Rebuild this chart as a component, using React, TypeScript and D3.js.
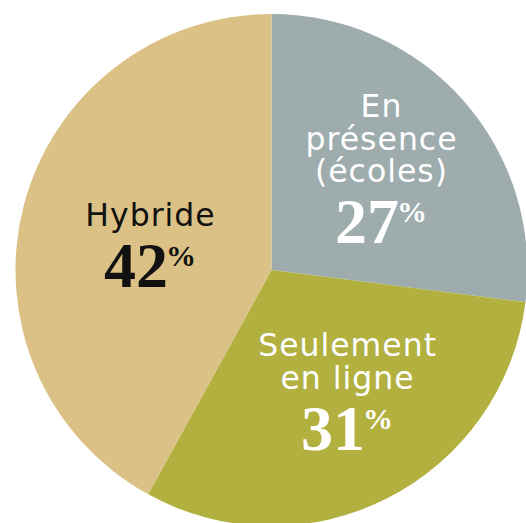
import React, { useEffect, useRef } from "react";
import * as d3 from "d3";

// modes d'enseignement, en %
const categories = ["En présence (écoles)", "Seulement en ligne", "Hybride"];
const labelLines = [["En", "présence", "(écoles)"], ["Seulement", "en ligne"], ["Hybride"]];
const values = [27, 31, 42];
const colors = ["#9eacad", "#b2b03f", "#dbc185"];
const textColors = ["#ffffff", "#ffffff", "#111111"];

const W = 526;
const H = 523;

export default function App() {
  const ref = useRef<SVGSVGElement>(null);

  useEffect(() => {
    const svg = d3.select(ref.current);
    svg.selectAll("*").remove();

    const cx = 271.5;
    const cy = 270;
    const radius = 256;

    const g = svg.append("g").attr("transform", `translate(${cx},${cy})`);

    const data = categories.map((c, i) => ({ name: c, value: values[i], i }));
    const pie = d3
      .pie<any>()
      .value((d) => d.value)
      .sort(null);
    const arcs = pie(data);

    const arc = d3.arc<any>().innerRadius(0).outerRadius(radius);

    g.selectAll("path.slice")
      .data(arcs)
      .enter()
      .append("path")
      .attr("class", "slice")
      .attr("d", arc)
      .attr("fill", (d) => colors[d.data.i]);

    // label placement: distance from centre and small angle nudge per slice
    const labelR = [149, 143, 124];
    const labelNudge = [-1.3, -4.9, -2.8];
    const lineH = 32.5;
    const capH = 23;
    const numGap = 61;

    arcs.forEach((d) => {
      const i = d.data.i;
      const mid = (d.startAngle + d.endAngle) / 2 + (labelNudge[i] * Math.PI) / 180;
      const la = d3.arc<any>().innerRadius(labelR[i]).outerRadius(labelR[i]);
      const [lx, ly] = la.centroid({ startAngle: mid, endAngle: mid } as any);
      const lines = labelLines[i];
      const blockH = capH + (lines.length - 1) * lineH + numGap;
      const firstBase = ly - blockH / 2 + capH;

      lines.forEach((t, k) => {
        g.append("text")
          .attr("x", lx + 0.5)
          .attr("y", firstBase + k * lineH)
          .attr("text-anchor", "middle")
          .attr("font-family", "'DejaVu Sans', sans-serif")
          .attr("font-size", 31.5)
          .attr("letter-spacing", 1)
          .attr("fill", textColors[i])
          .text(t);
      });

      const num = g
        .append("text")
        .attr("x", lx)
        .attr("y", firstBase + (lines.length - 1) * lineH + numGap)
        .attr("text-anchor", "middle")
        .attr("font-family", "'Liberation Serif', serif")
        .attr("font-weight", "bold")
        .attr("fill", textColors[i]);
      num.append("tspan").attr("font-size", 64).text(String(d.data.value));
      num.append("tspan").attr("font-size", 30).attr("dy", -21).attr("dx", -2).text("%");
    });
  }, []);

  return (
    <svg
      ref={ref}
      width={W}
      height={H}
      style={{ position: "absolute", left: 0, top: 0, background: "#fff" }}
    />
  );
}
